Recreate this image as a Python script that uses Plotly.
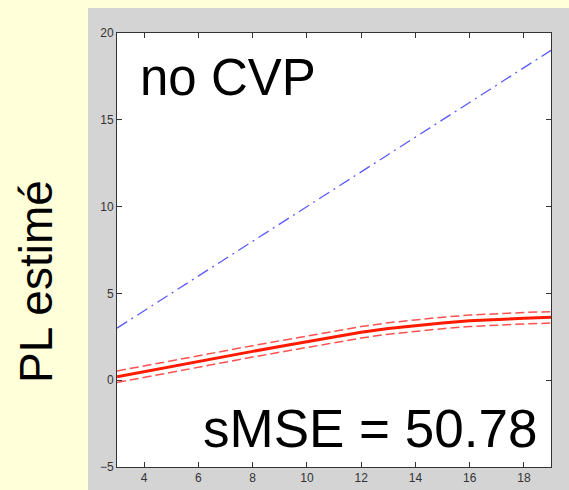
import plotly.graph_objects as go

x_vals = [3, 4, 5, 6, 7, 8, 9, 10, 11, 12, 13, 14, 15, 16, 17, 18, 19]
pred_mean = [0.2, 0.5, 0.8, 1.1, 1.38, 1.66, 1.94, 2.22, 2.5, 2.76, 2.98, 3.16, 3.3, 3.42, 3.51, 3.57, 3.62]
band = [0.33] * len(x_vals)
pred_upper = [m + b for m, b in zip(pred_mean, band)]
pred_lower = [m - b for m, b in zip(pred_mean, band)]
identity_x = [3, 19]
identity_y = [3, 19]
x_ticks = [4, 6, 8, 10, 12, 14, 16, 18]
y_ticks = [-5, 0, 5, 10, 15, 20]

W, H = 569, 490
L, R, T, B = 117, 18, 33, 23
pw, ph = W - L - R, H - T - B

fig = go.Figure()
fig.add_trace(go.Scatter(x=identity_x, y=identity_y, mode="lines",
                         line=dict(color="#5a5aff", width=1.3, dash="12px,5px,2px,5px")))
fig.add_trace(go.Scatter(x=x_vals, y=pred_upper, mode="lines",
                         line=dict(color="#ff5050", width=1.5, dash="9px,4px")))
fig.add_trace(go.Scatter(x=x_vals, y=pred_lower, mode="lines",
                         line=dict(color="#ff5050", width=1.5, dash="9px,4px")))
fig.add_trace(go.Scatter(x=x_vals, y=pred_mean, mode="lines",
                         line=dict(color="#ff1a00", width=3)))

# gray figure panel
fig.add_shape(type="rect", xref="paper", yref="paper", layer="below",
              x0=(88 - L) / pw, x1=(W - L) / pw,
              y0=-(H - T - ph) / ph, y1=(H - 8 - B) / ph,
              fillcolor="#d4d4d4", line=dict(width=0))
# white axes area
fig.add_shape(type="rect", xref="paper", yref="paper", layer="below",
              x0=0, x1=1, y0=0, y1=1,
              fillcolor="white", line=dict(width=0))

axis_common = dict(showgrid=False, zeroline=False, showline=True, linecolor="#333333",
                   linewidth=1, mirror="ticks", ticks="inside", ticklen=5, automargin=False,
                   tickcolor="#333333", tickfont=dict(family="Liberation Sans, Arial", size=12, color="#333333"))
fig.update_xaxes(range=[3, 19], tickvals=x_ticks, **axis_common)
fig.update_yaxes(range=[-5, 20], tickvals=y_ticks, **axis_common)

fig.add_annotation(text="no CVP", xref="paper", yref="paper", x=(138 - L) / pw, y=(H - B - 77) / ph,
                   xanchor="left", yanchor="middle", showarrow=False,
                   font=dict(family="Liberation Sans, Arial", size=51, color="black"))
fig.add_annotation(text="sMSE = 50.78", xref="paper", yref="paper", x=(539 - L) / pw, y=(H - B - 428) / ph,
                   xanchor="right", yanchor="middle", showarrow=False,
                   font=dict(family="Liberation Sans, Arial", size=53, color="black"))
fig.add_annotation(text="PL estimé", xref="paper", yref="paper", x=(36 - L) / pw, y=(H - B - 282) / ph,
                   xanchor="center", yanchor="middle", showarrow=False, textangle=-90,
                   font=dict(family="Liberation Sans, Arial", size=46, color="black"))

fig.update_layout(width=W, height=H, margin=dict(l=L, r=R, t=T, b=B),
                  paper_bgcolor="#ffffd9", plot_bgcolor="white", showlegend=False)
fig.write_html("out.html")
